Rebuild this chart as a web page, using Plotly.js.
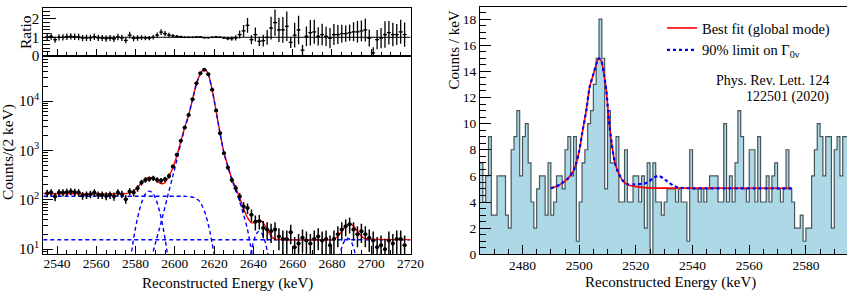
<!DOCTYPE html>
<html><head><meta charset="utf-8">
<script src="https://cdn.plot.ly/plotly-3.0.1.min.js"></script>
<style>html,body{margin:0;padding:0;background:#fff;}#chart{width:847px;height:293px;}</style>
</head><body><div id="chart"></div>
<script>
// ===== Left panel: calibration spectrum (2 keV bins) =====
const leftBinStart = 2535, leftBinWidth = 2;
const leftCounts = [136,140,116,140,140,143,147,143,140,122, 126,130,140,126,126,120,126,118,140,130,
  103,147,140,172,224,253,265,274,253,245, 262,305,471,813,1560,2900,5230,10900,22900,36600,
  42700,34800,16800,6410,2230,877,450,253,172,116, 73,68,50,36,37,27,25,23,25,18,
  16,16,22,11,13,17,15,13,16,18, 15,16,12,16,20,25,29,32,25,20,
  23,20,17,15,11,12,10,15,13,16, 16,12];
// error bars as drawn (weighted spectrum, larger than sqrt(N))
const leftCountErr = [23,24,22,24,24,24,24,24,24,22, 22,23,24,22,22,22,22,22,24,23,
  20,24,24,26,30,32,33,33,32,31, 32,35,43,57,79,108,145,209,303,383,
  413,373,259,160,94,59,42,32,26,22, 17,16.5,14,12,12,10.4,10,9.6,10,8.5,
  8,8,9.4,6.6,7.2,8.2,7.7,7.2,8,8.5, 7.7,8,6.9,8,9,10,10.8,11.3,10,9,
  9.6,9,8.2,7.7,6.6,6.9,6.3,7.7,7.2,8, 8,6.9];
const ratioValues = [1.02,1.05,0.87,1.0,1.0,1.03,1.05,1.03,1.02,0.95, 0.97,0.97,1.03,0.97,0.96,0.93,0.96,0.92,1.02,0.97,
  0.83,1.12,0.94,0.96,0.98,0.96,0.95,1.0,1.12,1.28, 1.2,1.12,1.08,1.05,1.03,1.0,1.0,1.0,1.02,1.02,
  0.98,0.98,1.0,1.02,1.0,0.97,0.93,0.93,0.97,1.15, 1.35,1.65,0.87,1.15,0.78,0.82,1.0,1.5,1.8,1.4,
  1.4,1.6,0.72,1.12,1.4,0.3,1.05,1.25,1.3,1.05, 1.15,1.05,0.96,1.15,1.15,1.2,1.2,1.25,1.3,1.3,
  1.35,1.4,0.96,0.15,0.87,0.96,1.15,1.25,1.15,1.15, 1.3,1.15];

// fit curves
const leftFitE = [2533,2575,2577,2578,2579,2580,2581,2582,2583,2584,2585,2586,2587,2588,2589,2590,2591,2592,2593,2594,2595,2596,2597,2598,2599,2600,2601,2603,2605,2607,2609,2611,2613,2614,2615,2616,2617,2619,2621,2623,2625,2627,2629,2631,2633,2635,2637,2638,2639,2640,2641,2642,2643,2644,2645,2646,2647,2648,2649,2650,2651,2653,2656,2680,2681,2682,2683,2684,2685,2686,2687,2688,2689,2690,2691,2692,2693,2694,2695,2696,2698,2720];
const leftFitTotal = [134,134,138.5,143,150,161,177,197,220,244,265,279,285,282,272,256,239,223,213,212,225,255,300,360,450,580,780,1500,2900,5200,10900,22400,35900,41000,43500,41500,35500,16800,6300,2230,900,480,270,175,110,66,43.5,38,34.4,34.5,37,37.8,38.5,37.3,33.9,29.5,24.9,21.2,18.5,16.8,16,15.6,15.5,15.6,16.2,17.0,18.4,20.4,23.1,26.3,29.2,31.4,32.2,31.4,29.2,26.3,23.1,20.4,18.4,17.0,16.2,15.6,15.5];
const leftFlatE = [2533,2720];
const leftFlatComp = [15.5,15.5];
const leftStepE = [2533,2604,2606,2608,2610,2611,2612,2613,2614,2615,2616,2617,2618,2619,2620,2621];
const leftStepComp = [118,118,117.5,115,110,104,98,88,74,60,45,32,21,13,8,5];
const leftLowE = [2577,2578,2579,2580,2581,2582,2583,2584,2585,2586,2587,2588,2589,2590,2591,2592,2593,2594,2595,2596,2597];
const leftLowComp = [4.7,9.1,16.4,27.5,43,63,86,110,131,145,150,145,131,110,86,63,43,27.5,16.4,9.1,4.7];
const leftPeakE = [2588,2590,2592,2594,2596,2598,2599,2601,2603,2605,2607,2609,2611,2613,2614,2615,2616,2617,2619,2621,2623,2625,2627,2629,2631,2633,2635,2637,2638.5,2640];
const leftPeakComp = [6.5,12.8,25,50,105,215,306,640,1370,2770,5070,10770,22300,35800,40950,43450,41450,35450,16780,6280,2215,885,465,255,158,92,50,25,12,6];
const leftEscE = [2637,2638,2639,2640,2641,2642,2643,2644,2645,2646,2647,2648,2649];
const leftEscComp = [3,5.7,9.4,14,18.4,21.8,23,21.8,18.4,14,9.4,5.7,3];
const leftHighE = [2683,2684,2685,2686,2687,2688,2689,2690,2691,2692,2693];
const leftHighComp = [4.9,7.6,10.8,13.7,15.9,16.7,15.9,13.7,10.8,7.6,4.9];

// ===== Right panel: ROI spectrum (1 keV bins) =====
const rightBinStart = 2465, rightBinWidth = 1;
const rightCounts = [7,4,6,9,3,3,6,6,6,3, 2,8,9,11,6,9,10,7,4,2, 5,6,6,3,7,3,4,6,6,5,
  8,9,6,9,1,4,7,8,10,11, 13,15,18,15,5,11,7,7,9,4, 4,8,4,4,6,6,4,6,2,7,
  0,7,4,4,3,4,5,5,5,4, 5,4,4,1,8,5,5,4,5,4, 5,6,6,6,4,4,10,4,6,4,
  7,11,9,5,4,8,8,4,9,4, 4,6,4,6,7,5,4,5,8,5, 4,2,2,3,1,2,2,6,8,10,
  9,6,9,9,2,8,9,6,9,9];
const rightFitE = [2490,2492,2494,2496,2498,2499,2500,2501,2502.5,2503.7,2504.9,2506.1,2506.9,2507.8,2508.8,2509.6,2510.4,2511.4,2512.5,2513.7,2515.5,2517.3,2519.6,2523,2530,2575];
const rightFitBest = [5.05,5.2,5.45,5.8,6.4,7.0,7.9,9.2,11.0,12.8,13.7,14.6,15.0,14.8,13.7,12.5,10.4,8.6,7.1,6.3,5.6,5.3,5.2,5.1,5.06,5.05];
const rightLimitE = [2490,2492,2494,2496,2498,2499,2500,2501,2502.5,2503.7,2504.9,2506.1,2506.9,2507.8,2508.8,2509.6,2510.4,2511.4,2512.5,2513.7,2515.5,2517.3,2519.6,2522.7,2524.5,2526.2,2528,2529.8,2531.5,2533.3,2535.1,2540,2575];
const rightFitLimit = [5.05,5.2,5.45,5.8,6.4,7.0,7.9,9.2,11.0,12.8,13.7,14.6,15.0,14.8,13.7,12.5,10.4,8.6,7.1,6.3,5.6,5.35,5.35,5.4,5.55,5.85,6.0,5.8,5.5,5.25,5.1,5.05,5.05];

// ---------------------------------------------------------------
const FONT = '"Liberation Serif", "Times New Roman", serif';
const W = 847, H = 293;
const px = p => p / W, py = p => 1 - p / H;

const leftE = leftCounts.map((_, i) => leftBinStart + i * leftBinWidth);
const ratioErr = ratioValues.map((r, i) => Math.max(r, 0.6) * leftCountErr[i] / leftCounts[i]);

const edges = rightCounts.map((_, i) => rightBinStart + i * rightBinWidth);
edges.push(rightBinStart + rightCounts.length * rightBinWidth);
const stepY = rightCounts.concat([rightCounts[rightCounts.length - 1]]);

const BLUE = '#0000ff', RED = '#ff0000';
const dashBlue = {color: BLUE, width: 1.4, dash: '4px,3px'};

const traces = [
  {x: leftFlatE, y: leftFlatComp, xaxis: 'x', yaxis: 'y', mode: 'lines', line: dashBlue, showlegend: false},
  {x: leftStepE, y: leftStepComp, xaxis: 'x', yaxis: 'y', mode: 'lines', line: Object.assign({shape: 'spline', smoothing: 0.8}, dashBlue), showlegend: false},
  {x: leftLowE, y: leftLowComp, xaxis: 'x', yaxis: 'y', mode: 'lines', line: Object.assign({shape: 'spline'}, dashBlue), showlegend: false},
  {x: leftEscE, y: leftEscComp, xaxis: 'x', yaxis: 'y', mode: 'lines', line: Object.assign({shape: 'spline'}, dashBlue), showlegend: false},
  {x: leftHighE, y: leftHighComp, xaxis: 'x', yaxis: 'y', mode: 'lines', line: Object.assign({shape: 'spline'}, dashBlue), showlegend: false},
  {x: leftFitE, y: leftFitTotal, xaxis: 'x', yaxis: 'y', mode: 'lines', line: {color: RED, width: 1.4, shape: 'spline', smoothing: 0.7}, showlegend: false},
  {x: leftPeakE, y: leftPeakComp, xaxis: 'x', yaxis: 'y', mode: 'lines', line: Object.assign({shape: 'spline', smoothing: 0.7}, dashBlue), showlegend: false},
  {x: leftE, y: leftCounts, xaxis: 'x', yaxis: 'y', mode: 'markers', marker: {color: 'black', size: 4},
   error_y: {type: 'data', array: leftCountErr, color: 'black', thickness: 1.5, width: 0},
   error_x: {type: 'constant', value: leftBinWidth / 2, color: 'black', thickness: 1.5, width: 0}, showlegend: false},
  {x: leftE, y: ratioValues, xaxis: 'x2', yaxis: 'y2', mode: 'markers', marker: {color: 'black', size: 2},
   error_y: {type: 'data', array: ratioErr, color: 'black', thickness: 1.3, width: 0},
   error_x: {type: 'constant', value: leftBinWidth / 2, color: 'black', thickness: 1.3, width: 0}, showlegend: false},
  {x: edges, y: stepY, xaxis: 'x3', yaxis: 'y3', mode: 'lines', line: {shape: 'hv', color: '#45555a', width: 1.2},
   fill: 'tozeroy', fillcolor: '#add8e6', showlegend: false},
  {x: rightFitE, y: rightFitBest, xaxis: 'x3', yaxis: 'y3', mode: 'lines', name: 'Best fit (global mode)',
   line: {color: RED, width: 1.6, shape: 'spline', smoothing: 0.6}},
  {x: rightLimitE, y: rightFitLimit, xaxis: 'x3', yaxis: 'y3', mode: 'lines', name: '90% limit on Γ<sub>0ν</sub>',
   line: {color: BLUE, width: 2.2, dash: 'dot', shape: 'spline', smoothing: 0.6}}
];

const axBase = {showline: true, mirror: true, linecolor: 'black', linewidth: 1, showgrid: false, zeroline: false,
  ticks: 'inside', tickcolor: 'black', tickwidth: 1, tickfont: {family: FONT, size: 13.5, color: 'black'}};

const logMinor = [];
for (let d = 1; d <= 10000; d *= 10) for (let m = 2; m <= 9; m++) logMinor.push(m * d);

const layout = {
  width: W, height: H, margin: {l: 0, r: 0, t: 0, b: 0},
  paper_bgcolor: 'white', plot_bgcolor: 'white',
  font: {family: FONT, size: 13, color: 'black'},
  showlegend: true,
  legend: {x: px(662), y: py(12), xanchor: 'left', yanchor: 'top', bgcolor: 'rgba(0,0,0,0)', borderwidth: 0,
    font: {family: FONT, size: 14.5, color: 'black'}, tracegroupgap: 0},
  xaxis: Object.assign({}, axBase, {domain: [px(43.3), px(410.5)], range: [2533, 2720], anchor: 'y',
    tick0: 2520, dtick: 20, ticklen: 8, ticklabelstandoff: -3,
    minor: {dtick: 5, tick0: 2520, ticklen: 4, ticks: 'inside', tickcolor: 'black'}}),
  yaxis: Object.assign({}, axBase, {domain: [py(254), py(56)], type: 'log', range: [0.903, 4.911], anchor: 'x',
    tickmode: 'array', tickvals: [10, 100, 1000, 10000], ticktext: ['10<sup>1</sup>', '10<sup>2</sup>', '10<sup>3</sup>', '10<sup>4</sup>'],
    ticklen: 10, tickfont: {family: FONT, size: 15, color: 'black'},
    minor: {tickmode: 'array', tickvals: logMinor, ticklen: 5, ticks: 'inside', tickcolor: 'black'}}),
  xaxis2: Object.assign({}, axBase, {domain: [px(43.3), px(410.5)], range: [2533, 2720], anchor: 'y2',
    showticklabels: false, tick0: 2520, dtick: 20, ticklen: 7, minor: {dtick: 5, tick0: 2520, ticklen: 4, ticks: 'inside', tickcolor: 'black'}}),
  yaxis2: Object.assign({}, axBase, {domain: [py(56), py(8.3)], range: [-0.02, 2.58], anchor: 'x2',
    tickmode: 'array', tickvals: [0, 1, 2], ticklen: 13, tickfont: {family: FONT, size: 15, color: 'black'},
    minor: {dtick: 0.2, tick0: 0, ticklen: 7, ticks: 'inside', tickcolor: 'black'}}),
  xaxis3: Object.assign({}, axBase, {domain: [px(480), 1], range: [2465, 2594.5], anchor: 'y3',
    tick0: 2480, dtick: 20, ticklen: 9, ticklabelstandoff: -2,
    minor: {dtick: 5, tick0: 2480, ticklen: 5, ticks: 'inside', tickcolor: 'black'}}),
  yaxis3: Object.assign({}, axBase, {domain: [py(254.3), py(7.3)], range: [0, 18.9], anchor: 'x3',
    tick0: 0, dtick: 2, ticklen: 11, minor: {dtick: 0.5, ticklen: 6, ticks: 'inside', tickcolor: 'black'}}),
  shapes: [
    {type: 'line', xref: 'x2 domain', yref: 'y2', x0: 0, x1: 1, y0: 1, y1: 1, line: {color: 'black', width: 1}, layer: 'below'}
  ],
  annotations: [
    {text: 'Counts/(2 keV)', xref: 'paper', yref: 'paper', x: px(8), y: py(152), textangle: -90, showarrow: false,
      xanchor: 'center', yanchor: 'middle', font: {family: FONT, size: 15.5}},
    {text: 'Ratio', xref: 'paper', yref: 'paper', x: px(26), y: py(32), textangle: -90, showarrow: false,
      xanchor: 'center', yanchor: 'middle', font: {family: FONT, size: 15.5}},
    {text: 'Reconstructed Energy (keV)', xref: 'paper', yref: 'paper', x: px(227), y: py(283), showarrow: false,
      xanchor: 'center', yanchor: 'middle', font: {family: FONT, size: 15}},
    {text: 'Reconstructed Energy (keV)', xref: 'paper', yref: 'paper', x: px(670), y: py(282), showarrow: false,
      xanchor: 'center', yanchor: 'middle', font: {family: FONT, size: 15}},
    {text: 'Counts / keV', xref: 'paper', yref: 'paper', x: px(453), y: py(9), textangle: -90, showarrow: false,
      xanchor: 'center', yanchor: 'top', font: {family: FONT, size: 15}},
    {text: 'Phys. Rev. Lett. 124', xref: 'paper', yref: 'paper', x: px(831), y: py(80), showarrow: false,
      xanchor: 'right', yanchor: 'middle', font: {family: FONT, size: 14}},
    {text: '122501 (2020)', xref: 'paper', yref: 'paper', x: px(831), y: py(97), showarrow: false,
      xanchor: 'right', yanchor: 'middle', font: {family: FONT, size: 14}}
  ]
};

Plotly.newPlot('chart', traces, layout, {staticPlot: true, displayModeBar: false});
</script>
</body></html>
